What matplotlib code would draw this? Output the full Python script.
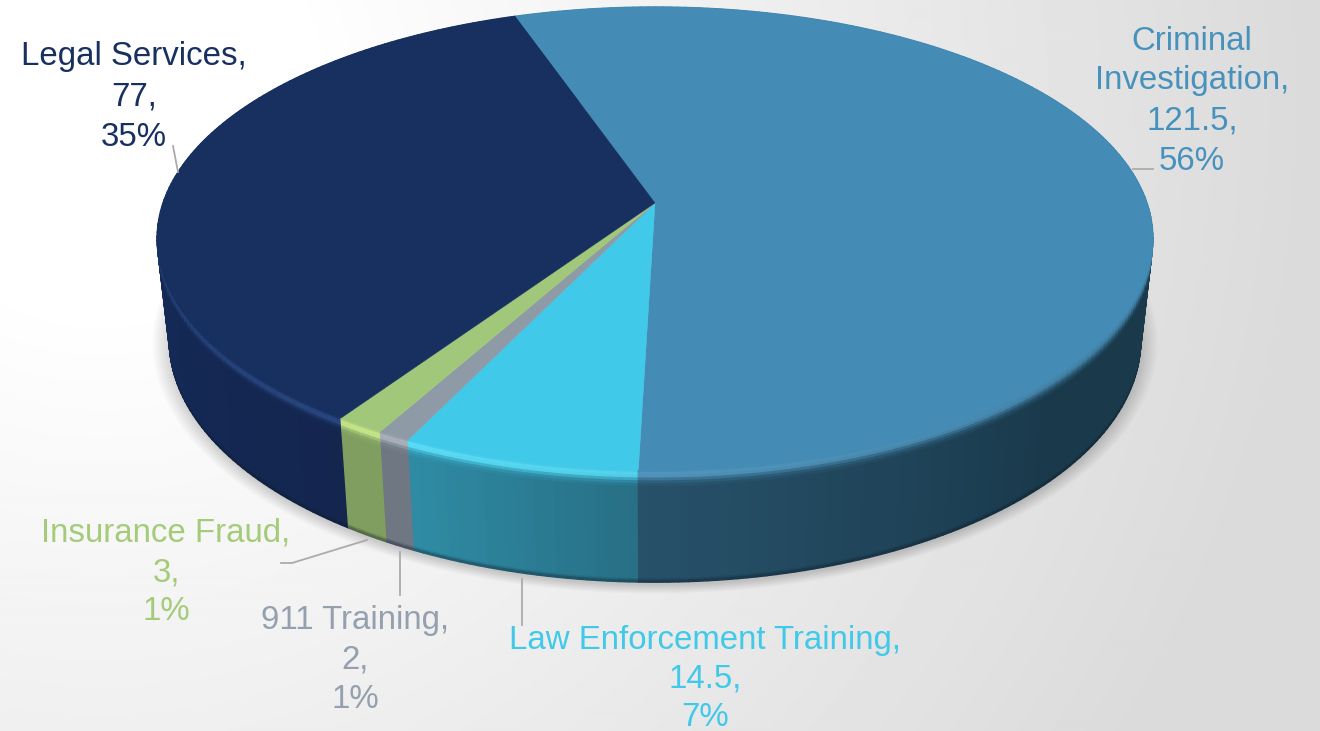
import numpy as np
import matplotlib
matplotlib.use("Agg")
import matplotlib.pyplot as plt
from matplotlib.collections import PolyCollection
from matplotlib.colors import to_rgb

# data, clockwise from the back of the pie
names = ["Criminal Investigation", "Law Enforcement Training", "911 Training", "Insurance Fraud", "Legal Services"]
values = [121.5, 14.5, 2, 3, 77]
percents = [56, 7, 1, 1, 35]

# colours
top_colors = ["#448CB6", "#41C9E9", "#8F9AA7", "#A1C87A", "#17305F"]
text_colors = ["#4791BD", "#41C9E9", "#95A0AE", "#A4CB7A", "#17305F"]
wall_from = ["#1A3A4C", "#276F85", "#6E7782", "#7F9E5F", "#14264E"]
wall_to = ["#27516A", "#2F8CA5", "#6E7782", "#7F9E5F", "#16306A"]
glow_colors = ["#5FA6CE", "#62E6FF", "#B5BAC4", "#D6F28E", "#2F4F8C"]

start_angle = -19
flat = 0.153  # perspective


def project(theta, r, top=True):
    u = r * np.sin(np.radians(theta))
    v = r * np.cos(np.radians(theta))
    den = 1 + flat * v
    if top:
        return 655 + 492 * u / den, 203 - 226 * v / den
    return 655 + 480 * u / den, 303 - 236.5 * v / den


def mix(a, b, t):
    return tuple(a[i] + (b[i] - a[i]) * t for i in range(3))


fig = plt.figure(figsize=(13.2, 7.31), dpi=100)
ax = fig.add_axes([0, 0, 1, 1])

# background
yy, xx = np.mgrid[0:731:2, 0:1320:2]
dist = np.hypot(xx - 100, yy - 100)
bg = 255 - 36 * np.clip((dist - 200) / 1000, 0, 1)
ax.imshow(bg, cmap="gray", vmin=0, vmax=255, extent=(0, 1320, 731, 0), aspect="auto", zorder=0)

edges = start_angle + np.cumsum([0] + values) * 360 / sum(values)

# soft shadow under the pie
circle = np.linspace(0, 360, 361)
for grow in np.linspace(1.035, 1.0, 14):
    sx, sy = project(circle, 1.0, top=False)
    sx = 655 + (sx - 655) * grow
    sy = 340 + (sy - 340) * grow + 3
    ax.fill(sx, sy, color="#000000", alpha=0.01, lw=0, zorder=1)

# side wall and bevel, one thin strip per step
strips = []
band = [0, 0.025, 0.05, 0.075, 0.1, 0.125, 0.15, 0.2, 0.97, 0.985, 1.0]
for i in range(len(values)):
    steps = max(int((edges[i + 1] - edges[i]) / 1.0), 2)
    th = np.linspace(edges[i], edges[i + 1], steps + 1)
    top_c = to_rgb(top_colors[i])
    glow_c = to_rgb(glow_colors[i])
    w0 = to_rgb(wall_from[i])
    w1 = to_rgb(wall_to[i])
    for a, b in zip(th[:-1], th[1:]):
        mid = (a + b) / 2
        if i == 0:
            pos = np.clip((mid - 135) / 47, 0, 1)
        else:
            pos = (mid - edges[i]) / (edges[i + 1] - edges[i])
        wall = mix(w0, w1, pos)
        strength = np.clip(1 - abs(((mid - 205 + 180) % 360) - 180) / 120, 0, 1)
        xa0, ya0 = project(a, 1.0)
        xb0, yb0 = project(b, 1.0)
        xa1, ya1 = project(a, 1.0, top=False)
        xb1, yb1 = project(b, 1.0, top=False)
        for s0, s1 in zip(band[:-1], band[1:]):
            s = (s0 + s1) / 2
            if s < 0.15:
                base = mix(top_c, wall, s / 0.15)
                bump = max(0, 1 - abs(s - 0.05) / 0.05) * strength
                c = mix(base, glow_c, bump)
            elif s > 0.97:
                c = mix(wall, (0.05, 0.1, 0.15), (s - 0.97) / 0.03 * 0.5)
            else:
                c = wall
            quad = [
                (xa0 + (xa1 - xa0) * s0, ya0 + (ya1 - ya0) * s0),
                (xb0 + (xb1 - xb0) * s0, yb0 + (yb1 - yb0) * s0),
                (xb0 + (xb1 - xb0) * s1, yb0 + (yb1 - yb0) * s1),
                (xa0 + (xa1 - xa0) * s1, ya0 + (ya1 - ya0) * s1),
            ]
            strips.append((np.cos(np.radians(mid)), quad, c))

# paint far strips first so the near ones cover them
strips.sort(key=lambda item: -item[0])
polys = [item[1] for item in strips]
cols = [item[2] for item in strips]
ax.add_collection(PolyCollection(polys, facecolors=cols, edgecolors="face", linewidths=1.0, zorder=2))

# top face
for i in range(len(values)):
    th = np.linspace(edges[i], edges[i + 1], 200)
    x, y = project(th, 1.0)
    ax.fill(np.r_[655, x], np.r_[203, y], color=top_colors[i], lw=0.3, zorder=3)

# leader lines
leaders = [
    ([1133, 1153], [169, 169]),
    ([522, 522], [579, 625]),
    ([400, 400], [552, 595]),
    ([281, 292, 367], [563, 563, 540]),
    ([173, 178], [146, 172]),
]
for lx, ly in leaders:
    ax.plot(lx, ly, color="#ABABAB", lw=1.3, zorder=4)

# labels, one text per line
label_lines = [
    ["Criminal", "Investigation,", "121.5,", "56%"],
    ["Law Enforcement Training,", "14.5,", "7%"],
    ["911 Training,", "2,", "1%"],
    ["Insurance Fraud,", "3,", "1%"],
    ["Legal Services,", "77,", "35%"],
]
label_x = [1192, 705, 355, 166, 134]
label_y = [41, 641, 620, 533, 57]
line_gap = [40, 38.5, 40, 39.5, 40]
for i, lines in enumerate(label_lines):
    for j, line in enumerate(lines):
        ax.text(label_x[i], label_y[i] + j * line_gap[i], line, color=text_colors[i], ha="center",
                va="center", fontsize=23.8, family="Liberation Sans", zorder=5, clip_on=True)

ax.set_xlim(0, 1320)
ax.set_ylim(731, 0)
ax.axis("off")
fig.savefig("out.png", dpi=100)
